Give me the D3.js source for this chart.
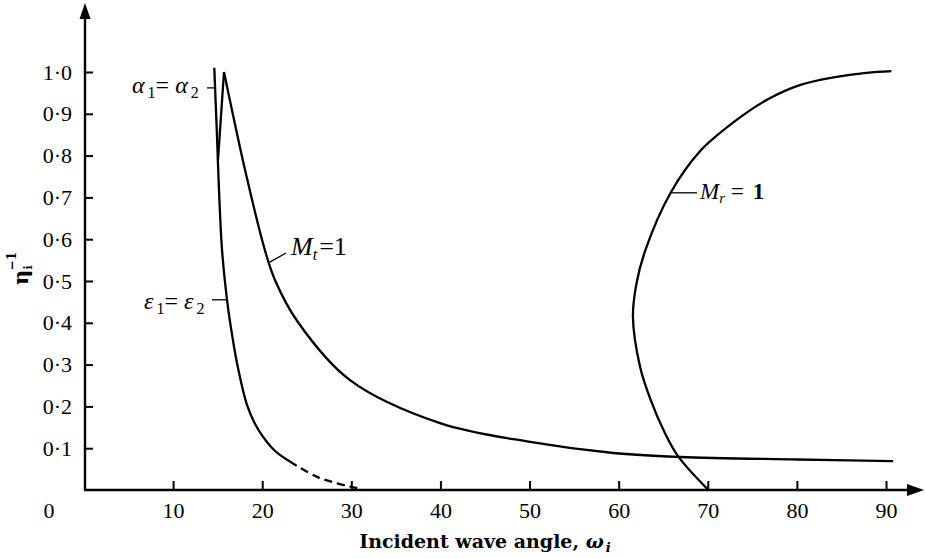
<!DOCTYPE html>
<html>
<head>
<meta charset="utf-8">
<script src="https://cdn.jsdelivr.net/npm/d3@7"></script>
<style>
body { margin: 0; background: #fff; }
svg { display: block; font-family: "Liberation Serif", serif; }
</style>
</head>
<body>
<svg id="drawing_region"></svg>
<script>
// values, [omega_i (deg), eta_i^-1]
const xTicks = [10, 20, 30, 40, 50, 60, 70, 80, 90];
const yTicks = [0.1, 0.2, 0.3, 0.4, 0.5, 0.6, 0.7, 0.8, 0.9, 1.0];

// alpha1 = alpha2 / eps1 = eps2 branch
const epsSolid = [[14.62, 1.01], [14.9, 0.86], [15.15, 0.718], [15.49, 0.574], [16.05, 0.455],
    [16.39, 0.402], [17.17, 0.304], [18.3, 0.203], [19.2, 0.158], [20.1, 0.127], [21.0, 0.103],
    [21.8, 0.087], [23.1, 0.068]];
const epsDashed = [[23.1, 0.068], [26.1, 0.032], [28.4, 0.016], [29.9, 0.008], [31.0, 0.003]];

// M_t = 1
const mtRise = [[15.04, 0.79], [15.71, 1.0]];
const mtCurve = [[15.71, 1.0], [18.07, 0.766], [20.3, 0.574], [21.44, 0.502],
    [24.0, 0.402], [29.85, 0.263], [39.96, 0.160], [50.06, 0.115], [59.4, 0.0885], [66.9, 0.079],
    [80.0, 0.073], [90.8, 0.069]];

// M_r = 1
const mrCurve = [[70.07, 0.0], [66.7, 0.080], [65.2, 0.136], [63.6, 0.215], [62.4, 0.295],
    [61.6, 0.415], [62.0, 0.494], [63.0, 0.574], [65.8, 0.71], [69.1, 0.81], [72.9, 0.88],
    [76.6, 0.933], [80.4, 0.969], [84.1, 0.987], [87.8, 0.998], [90.6, 1.002]];

var config = {
    parent: '#drawing_region',
    width: 925,
    height: 558,
    xrange: [84, 886],
    yrange: [490, 72],
};

class ShockChart {

    constructor( config ) {
        this.config = config;
        this.init();
    }

    init() {
        let self = this;

        self.svg = d3.select( self.config.parent )
            .attr('width', self.config.width)
            .attr('height', self.config.height);

        self.xscale = d3.scaleLinear().domain([0, 90]).range(self.config.xrange);
        self.yscale = d3.scaleLinear().domain([0, 1]).range(self.config.yrange);

        self.line = d3.line()
            .x( d => self.xscale(d[0]) )
            .y( d => self.yscale(d[1]) );
    }

    render() {
        let self = this;
        const svg = self.svg;
        const x = self.xscale, y = self.yscale;
        const dot = d => d3.format('.1f')(d).replace('.', '·');

        // axes
        svg.append('g')
            .attr('transform', `translate(${x(0) + 1}, 0)`)
            .call( d3.axisLeft(y).tickValues(yTicks).tickFormat(dot)
                .tickSizeInner(-8).tickSizeOuter(0).tickPadding(13) )
            .attr('font-family', '"Liberation Serif", serif')
            .attr('font-size', 22)
            .call( g => g.select('.domain').remove() )
            .call( g => g.selectAll('line').attr('stroke-width', 2) );

        svg.append('g')
            .attr('transform', `translate(0, ${y(0)})`)
            .call( d3.axisBottom(x).tickValues(xTicks).tickFormat(d3.format('d'))
                .tickSizeInner(-9).tickSizeOuter(0).tickPadding(12) )
            .attr('font-family', '"Liberation Serif", serif')
            .attr('font-size', 22)
            .call( g => g.select('.domain').remove() )
            .call( g => g.selectAll('line').attr('stroke-width', 2) );

        svg.append('text')
            .attr('x', 49).attr('y', y(0) + 12).attr('dy', '0.71em')
            .attr('text-anchor', 'middle')
            .attr('font-size', 22)
            .text('0');

        svg.append('line')
            .attr('x1', x(0) + 1).attr('y1', y(0)).attr('x2', x(0) + 1).attr('y2', 16)
            .attr('stroke', '#000').attr('stroke-width', 2.4);
        svg.append('path')
            .attr('d', `M${x(0) + 1},3 L${x(0) - 4.5},19 L${x(0) + 6.5},19 Z`)
            .attr('fill', '#000');

        svg.append('line')
            .attr('x1', x(0)).attr('y1', y(0)).attr('x2', 910).attr('y2', y(0))
            .attr('stroke', '#000').attr('stroke-width', 2.4);
        svg.append('path')
            .attr('d', `M924,${y(0)} L907,${y(0) - 6} L907,${y(0) + 6} Z`)
            .attr('fill', '#000');

        // curves
        const curve = (data, fn, dash) => svg.append('path')
            .datum(data)
            .attr('d', self.line.curve(fn))
            .attr('fill', 'none')
            .attr('stroke', '#000')
            .attr('stroke-width', 2.3)
            .attr('stroke-dasharray', dash || null);

        curve(epsSolid, d3.curveCatmullRom);
        curve(epsDashed, d3.curveCatmullRom, '8,5');
        curve(mtRise, d3.curveLinear);
        curve(mtCurve, d3.curveCatmullRom);
        curve(mrCurve, d3.curveCatmullRom);

        // leader lines
        const leader = (x1, y1, x2, y2) => svg.append('line')
            .attr('x1', x1).attr('y1', y1).attr('x2', x2).attr('y2', y2)
            .attr('stroke', '#000').attr('stroke-width', 1.3);
        leader(207, y(0.962), x(14.7) - 1, y(0.962));
        leader(286, 253, x(20.85), y(0.545));
        leader(212, y(0.455), x(16.05), y(0.455));
        leader(697, y(0.711), x(65.8), y(0.711));

        // labels
        const alpha = svg.append('text').attr('x', 132).attr('y', 93).attr('font-size', 24);
        alpha.append('tspan').attr('font-style', 'italic').text('α');
        alpha.append('tspan').attr('font-size', 16).attr('dy', 5).attr('dx', 3).text('1');
        alpha.append('tspan').attr('dy', -5).text('= ');
        alpha.append('tspan').attr('font-style', 'italic').text('α');
        alpha.append('tspan').attr('font-size', 16).attr('dy', 5).attr('dx', 3).text('2');

        const eps = svg.append('text').attr('x', 144).attr('y', 309).attr('font-size', 24);
        eps.append('tspan').attr('font-style', 'italic').text('ε');
        eps.append('tspan').attr('font-size', 16).attr('dy', 5).attr('dx', 3).text('1');
        eps.append('tspan').attr('dy', -5).text('= ');
        eps.append('tspan').attr('font-style', 'italic').text('ε');
        eps.append('tspan').attr('font-size', 16).attr('dy', 5).attr('dx', 3).text('2');

        const mt = svg.append('text').attr('x', 291).attr('y', 255).attr('font-size', 26);
        mt.append('tspan').attr('font-style', 'italic').text('M');
        mt.append('tspan').attr('font-style', 'italic').attr('font-size', 16).attr('dy', 5).text('t');
        mt.append('tspan').attr('dy', -5).attr('dx', 2).text('=1');

        const mr = svg.append('text').attr('x', 700).attr('y', 199).attr('font-size', 23);
        mr.append('tspan').attr('font-style', 'italic').text('M');
        mr.append('tspan').attr('font-style', 'italic').attr('font-size', 15).attr('dy', 4).text('r');
        mr.append('tspan').attr('dy', -4).attr('dx', 6).text('= ');
        mr.append('tspan').attr('font-weight', 'bold').attr('dx', 3).text('1');

        // axis titles
        const xt = svg.append('text')
            .attr('x', (x(0) + x(90)) / 2).attr('y', 548)
            .attr('text-anchor', 'middle')
            .attr('font-family', '"DejaVu Serif", serif')
            .attr('font-weight', 'bold')
            .attr('font-size', 19)
            .text('Incident wave angle, ');
        xt.append('tspan').attr('font-style', 'italic').text('ω');
        xt.append('tspan').attr('font-style', 'italic').attr('font-size', 13).attr('dy', 4).attr('dx', 2).text('i');

        const yt = svg.append('text')
            .attr('transform', `translate(28, ${y(0.53)}) rotate(-90)`)
            .attr('text-anchor', 'middle')
            .attr('font-family', '"DejaVu Serif", serif')
            .attr('font-weight', 'bold')
            .attr('font-size', 21)
            .text('η');
        yt.append('tspan').attr('font-size', 11).attr('dy', 4).text('i');
        yt.append('tspan').attr('font-size', 12).attr('dx', -5).attr('dy', -16).text('−1');
    }
}

const chart = new ShockChart( config );
chart.render();
</script>
</body>
</html>
